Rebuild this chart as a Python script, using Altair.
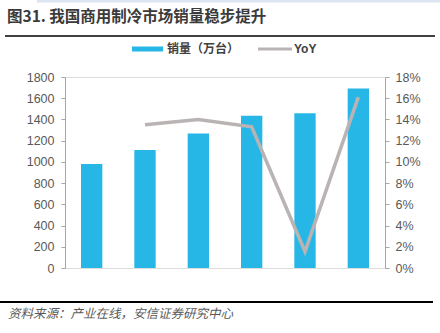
import altair as alt
import pandas as pd

years = ["2016", "2017", "2018", "2019", "2020", "2021"]
sales = [981, 1113, 1267, 1434, 1458, 1692]
yoy = [None, 0.135, 0.140, 0.133, 0.0155, 0.161]

df = pd.DataFrame({"year": years, "sales": sales, "yoy": yoy})

W, H = 320, 191
BLUE = "#27B7E6"
GRAY = "#BAB3B3"
TXT = "#595959"

xenc = alt.X("year:N", sort=years,
             scale=alt.Scale(paddingInner=0.6, paddingOuter=0.3),
             axis=alt.Axis(title=None, labelAngle=0, labelFontSize=13, labelColor="#505050",
                           labelFont="Liberation Sans", labelPadding=6, tickBand="extent",
                           tickSize=5, tickColor="#A6A6A6", domainColor="#A6A6A6", grid=False))

bars = alt.Chart(df).mark_bar(color=BLUE).encode(
    x=xenc,
    y=alt.Y("sales:Q", scale=alt.Scale(domain=[0, 1800], nice=False),
            axis=alt.Axis(title=None, values=list(range(0, 1801, 200)), grid=False, format="d",
                          labelFontSize=12.5, labelColor=TXT, labelFont="Liberation Sans",
                          tickSize=4, labelPadding=7, tickColor="#A6A6A6", domainColor="#A6A6A6")),
)

line = alt.Chart(df).transform_filter("datum.yoy != null").mark_line(
    color=GRAY, strokeWidth=3.5).encode(
    x=alt.X("year:N", sort=years, scale=alt.Scale(paddingInner=0.6, paddingOuter=0.3), axis=None),
    y=alt.Y("yoy:Q", scale=alt.Scale(domain=[0, 0.18], nice=False),
            axis=alt.Axis(title=None, orient="right", format=".0%",
                          values=[i / 100 for i in range(0, 19, 2)], grid=False,
                          labelFontSize=12.5, labelColor=TXT, labelFont="Liberation Sans",
                          tickSize=4, labelPadding=6, tickColor="#A6A6A6", domainColor="#A6A6A6")),
)

main = alt.layer(bars, line).resolve_scale(y="independent")

base = alt.Chart(pd.DataFrame({"a": [0]}))

# decorative separator lines (title underline, source overline, top band)
sep_x1 = [-28, -60, -65]
sep_x2 = [375, 370, 368]
sep_y = [-76, -41, 225]
sep_c = ["#DCE6F2", "#404040", "#000000"]
sep_w = [3, 2, 2]
seps = alt.Chart(pd.DataFrame({"x1": sep_x1, "x2": sep_x2, "y": sep_y, "c": sep_c, "w": sep_w})).mark_rule().encode(
    x=alt.X("x1:Q", scale=alt.Scale(domain=[0, W], nice=False, zero=False), axis=None),
    x2="x2:Q",
    y=alt.Y("y:Q", scale=alt.Scale(domain=[0, H], nice=False, zero=False, reverse=True), axis=None),
    color=alt.Color("c:N", scale=None, legend=None),
    strokeWidth=alt.StrokeWidth("w:Q", scale=None, legend=None),
)

title = base.mark_text(text="图31. 我国商用制冷市场销量稳步提升", align="left", baseline="middle",
                       font="Noto Sans CJK SC", fontSize=15.5, fontWeight="bold",
                       color="#3A3A3A").encode(x=alt.value(-58), y=alt.value(-60))
leg1 = base.mark_rule(color=BLUE, strokeWidth=5).encode(
    x=alt.value(67), x2=alt.value(98), y=alt.value(-28))
leg1t = base.mark_text(text="销量（万台）", align="left", baseline="middle",
                       font="Noto Sans CJK SC", fontSize=12, fontWeight="bold", color="#404040").encode(
    x=alt.value(102), y=alt.value(-28))
leg2 = base.mark_rule(color=GRAY, strokeWidth=3).encode(
    x=alt.value(193), x2=alt.value(227), y=alt.value(-28))
leg2t = base.mark_text(text="YoY", align="left", baseline="middle",
                       font="Liberation Sans", fontSize=12, fontWeight="bold", color="#404040").encode(
    x=alt.value(229), y=alt.value(-28))
src = base.mark_text(text="资料来源：产业在线，安信证券研究中心", align="left", baseline="middle",
                     font="Noto Sans CJK SC", fontSize=12.5, fontStyle="italic", color=TXT).encode(
    x=alt.value(-57), y=alt.value(237))

deco = alt.layer(title, leg1, leg1t, leg2, leg2t, src)

chart = alt.layer(main, deco, seps).resolve_scale(x="independent", y="independent").properties(
    width=W, height=H,
    autosize=alt.AutoSizeParams(type="none"),
    padding={"left": 65, "top": 77, "right": 55, "bottom": 65},
).configure_view(stroke=None).configure(background="white")

chart.save("out.html", embed_options={"renderer": "svg", "actions": False})
